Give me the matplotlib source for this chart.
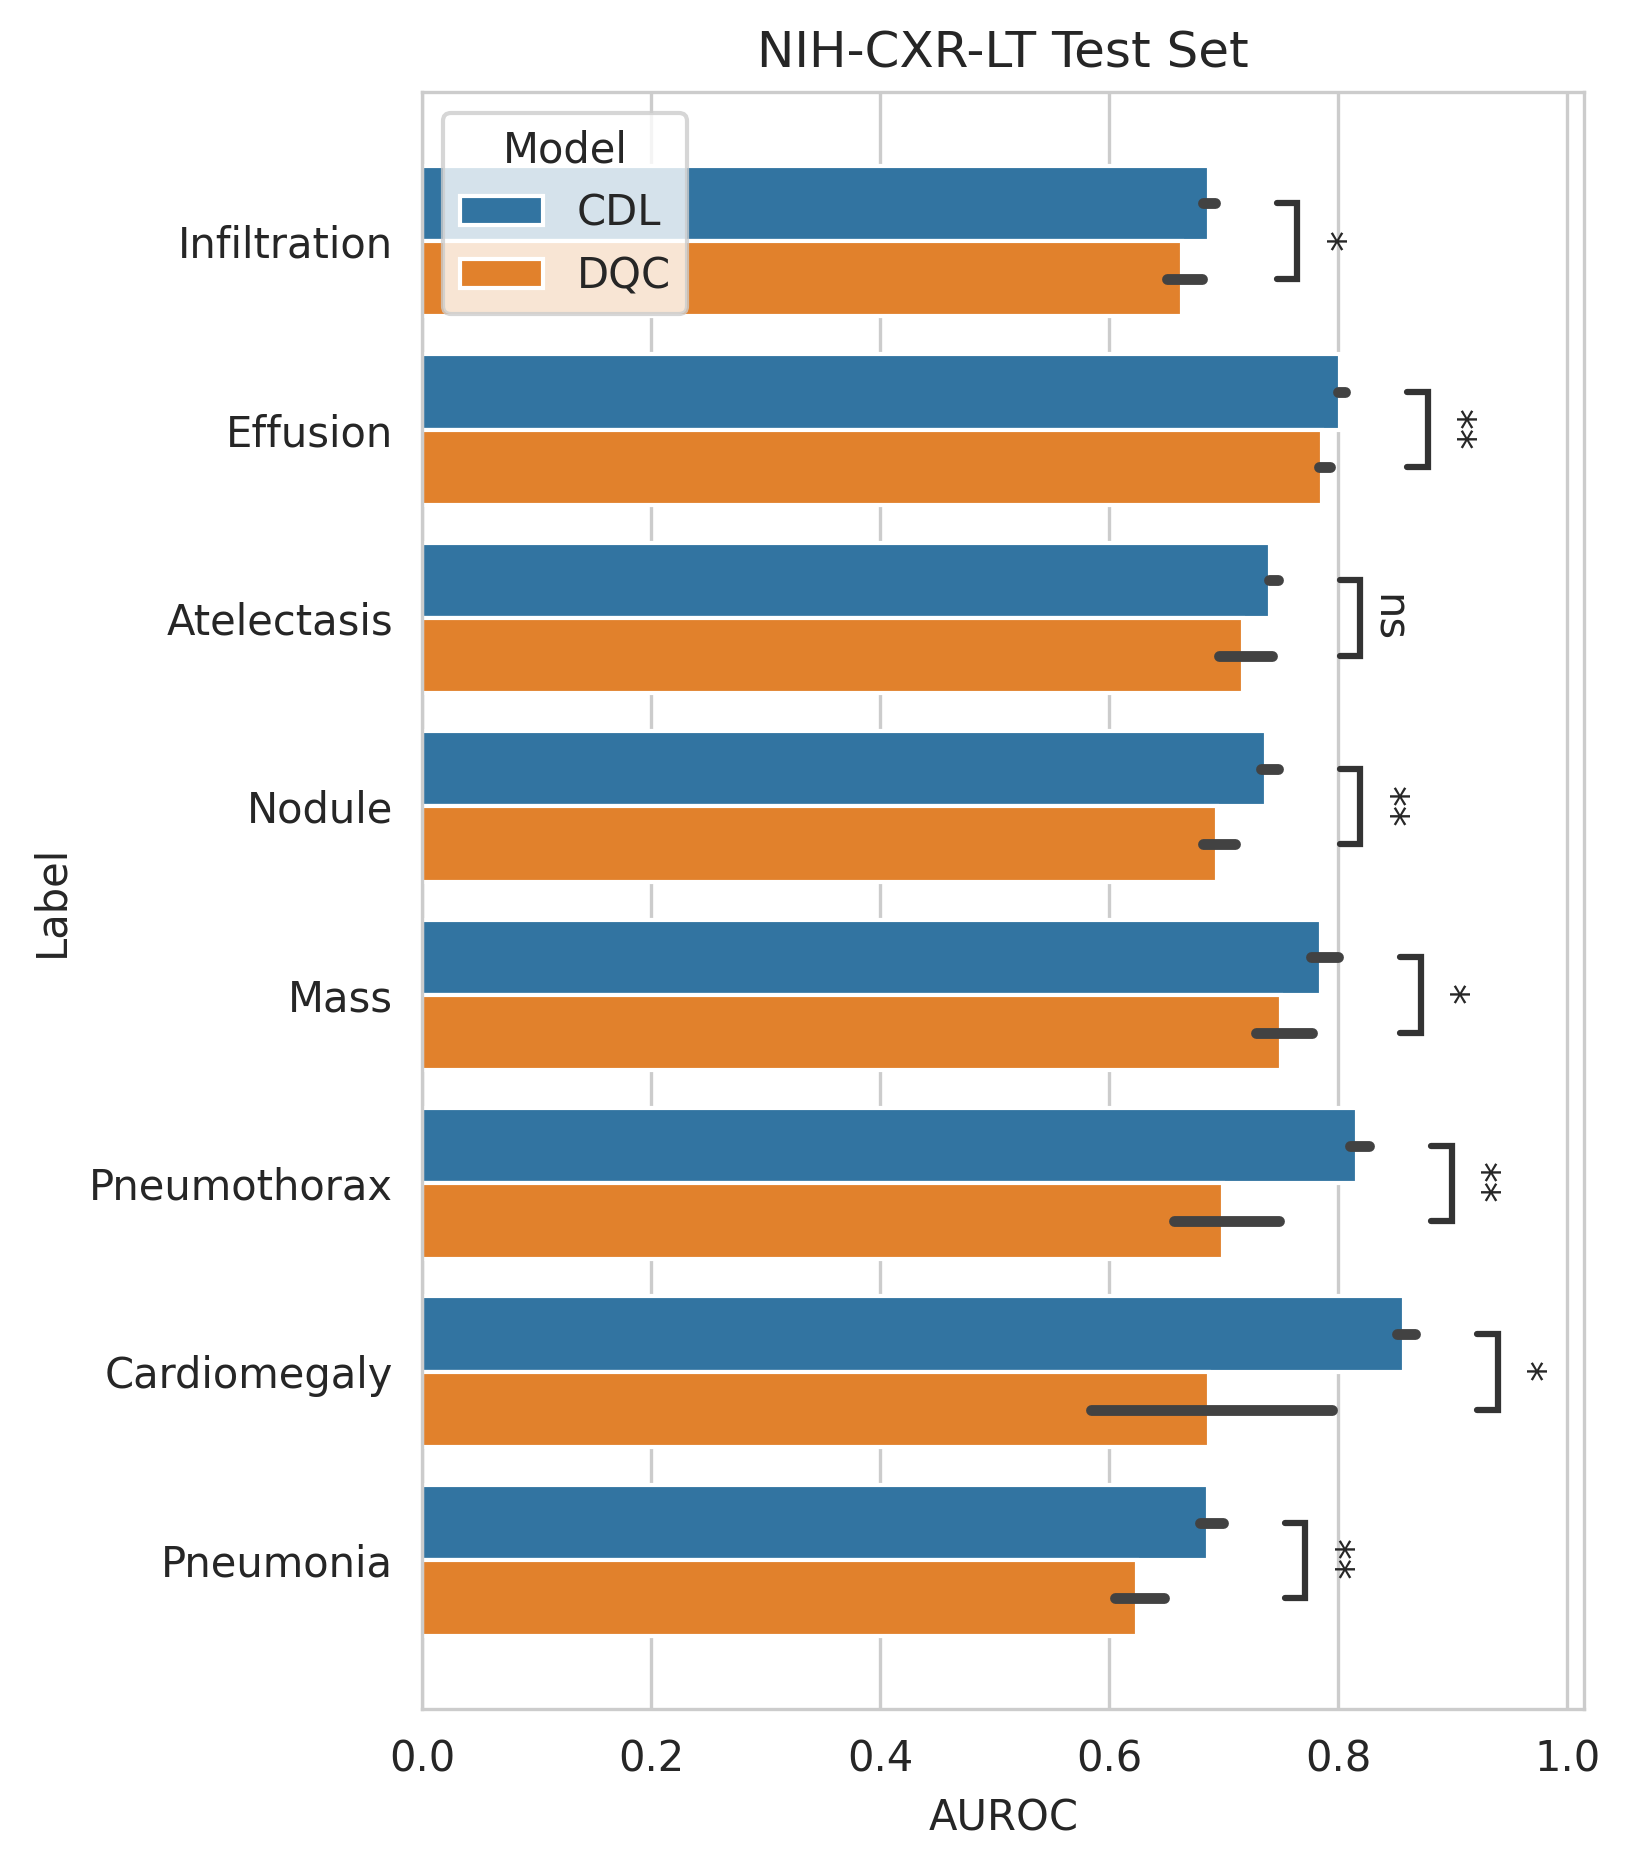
import matplotlib.pyplot as plt
import numpy as np
import seaborn as sns

labels = ["Infiltration", "Effusion", "Atelectasis", "Nodule",
          "Mass", "Pneumothorax", "Cardiomegaly", "Pneumonia"]
models = ["CDL", "DQC"]

# mean AUROC and CI bounds
cdl_mean = [0.687, 0.801, 0.740, 0.737, 0.785, 0.816, 0.857, 0.686]
cdl_low = [0.682, 0.800, 0.739, 0.732, 0.776, 0.810, 0.851, 0.679]
cdl_high = [0.692, 0.806, 0.747, 0.747, 0.800, 0.827, 0.867, 0.699]
dqc_mean = [0.663, 0.786, 0.717, 0.694, 0.750, 0.699, 0.687, 0.624]
dqc_low = [0.650, 0.783, 0.696, 0.682, 0.728, 0.656, 0.584, 0.605]
dqc_high = [0.681, 0.793, 0.742, 0.710, 0.777, 0.748, 0.794, 0.648]
signif = ["*", "**", "ns", "**", "*", "**", "*", "**"]


def main():
    sns.set_style("whitegrid")
    pal = [sns.desaturate(c, 0.75) for c in sns.color_palette("tab10")[:2]]

    fig = plt.figure(figsize=(1630 / 300, 1869 / 300), dpi=300)
    ax = fig.add_axes((0.2591, 0.0855, 0.7129, 0.8652))

    y = np.arange(len(labels))
    h = 0.4
    means = [cdl_mean, dqc_mean]
    lows = [cdl_low, dqc_low]
    highs = [cdl_high, dqc_high]
    offs = [-h / 2, h / 2]

    for k in range(2):
        ax.barh(y + offs[k], means[k], height=h, color=pal[k],
                edgecolor="white", linewidth=1, label=models[k])
    for k in range(2):
        for i in range(len(labels)):
            ax.plot([lows[k][i], highs[k][i]], [y[i] + offs[k]] * 2,
                    color=".26", lw=2.6, solid_capstyle="round", zorder=3)

    # significance brackets
    for i in range(len(labels)):
        x0 = max(cdl_high[i], dqc_high[i]) + 0.054
        x1 = x0 + 0.018
        ax.plot([x0, x1, x1, x0],
                [y[i] - h / 2, y[i] - h / 2, y[i] + h / 2, y[i] + h / 2],
                color="0.2", lw=1.5, solid_capstyle="round",
                solid_joinstyle="miter", zorder=3)
        ax.annotate(signif[i], xy=(x1, y[i]), xytext=(1.5, 0),
                    textcoords="offset points", ha="left", va="center",
                    rotation=270, fontsize=10, color=".15")

    ax.set_yticks(y)
    ax.set_yticklabels(labels)
    ax.yaxis.grid(False)
    ax.set_xlim(0, 1.0148)
    ax.set_ylim(7.79, -0.79)
    ax.set_xlabel("AUROC")
    ax.set_ylabel("Label")
    ax.set_title("NIH-CXR-LT Test Set")
    ax.legend(title="Model", loc="upper left")

    fig.savefig("out.png", dpi=300)
    plt.close(fig)


if __name__ == "__main__":
    main()
